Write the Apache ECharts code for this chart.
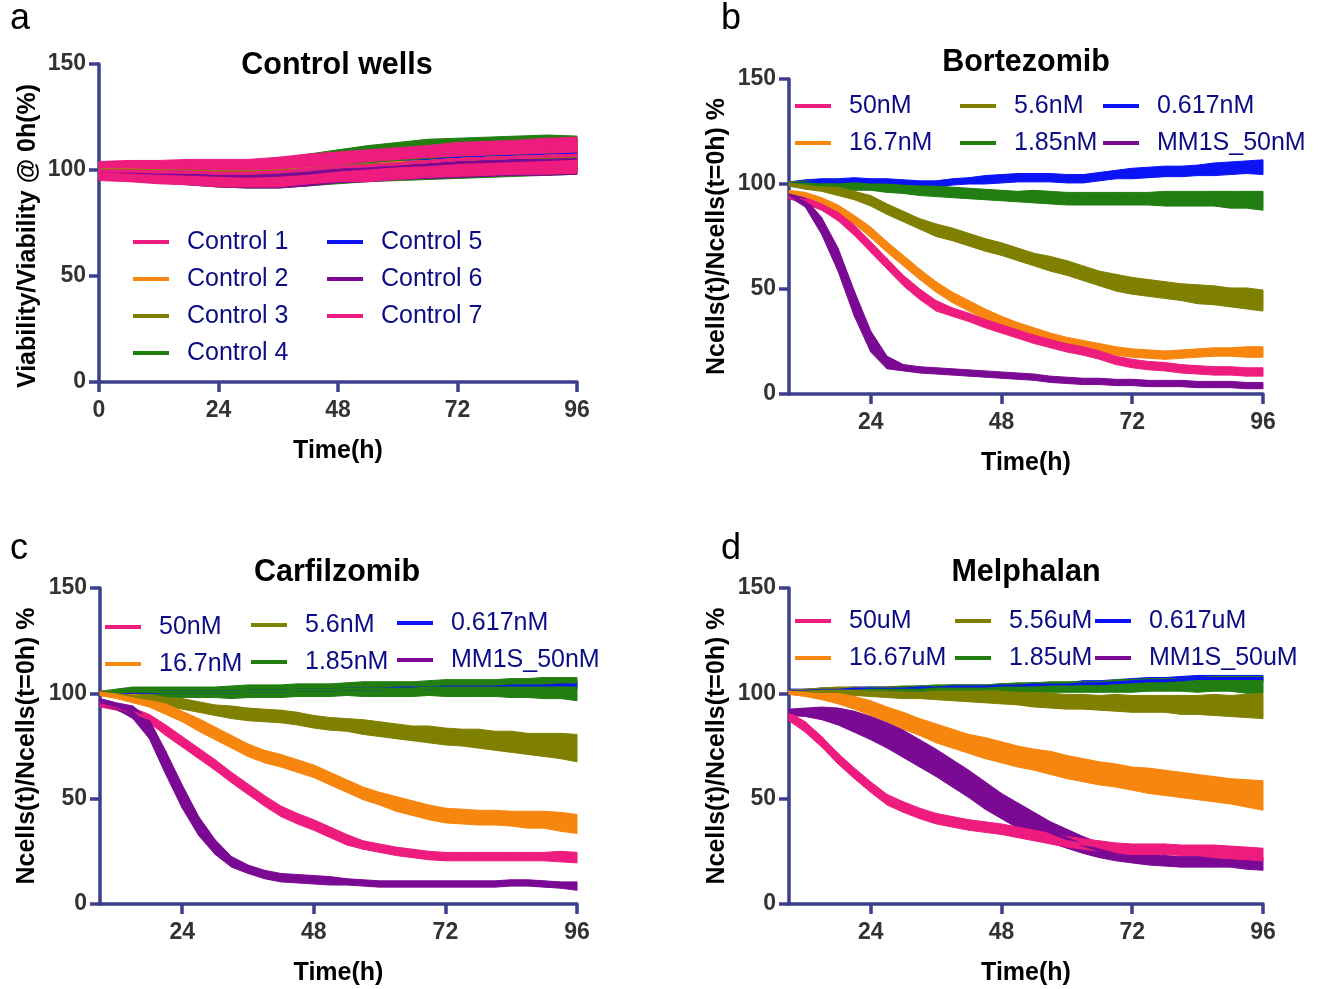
<!DOCTYPE html>
<html><head><meta charset="utf-8">
<script src="https://cdn.jsdelivr.net/npm/echarts@6/dist/echarts.min.js"></script>
<style>html,body{margin:0;padding:0;background:#fff}#c{width:1326px;height:989px}</style>
</head><body><div id="c"></div>
<script>
// ---------------- DATA ----------------
// Panel a: control wells (time in hours)
const tCtrl = [0,6,12,18,24,30,36,42,48,54,60,66,72,78,84,90,96];
const ctrl1 = [99.5,99.5,99,99,98.5,98.5,99,100,101.5,102,103,104,105,105.5,106,106.5,107];
const ctrl2 = [100,100,99.5,99,99,99,99.5,100.5,101.5,102.5,103.5,104,105,105.5,106,106.5,107];
const ctrl3 = [100,100,99.5,99.5,99,99,99.5,100.5,101.5,102.5,103,104,105,105.5,106,106,106.5];
const ctrl4 = [100,99.5,99,98.5,98,98,98.5,100,101.5,103,104,105,105.5,106,106.5,107,107];
const ctrl5 = [100,99.5,99,99,98.5,98.5,99,100,101.5,102.5,103.5,104.5,105.5,106,106.5,107,107.5];
const ctrl6 = [99.5,99,98.5,98,97.5,97,97.5,98.5,100,101,102,102.5,103.5,104,104.5,105,105.5];
const ctrl7 = [99.5,99.5,99,99,98.5,98.5,99,100.5,101.5,102,103,104,105,105.5,106,106.5,107];
const ctrlErr1 = [4,4.5,5,5.5,6,6,6.5,6.5,6.5,7,7,7,7.5,7.5,7.5,8,8];
const ctrlErr2 = [3.5,3.5,4,4.5,5,5,5.5,5.5,5.5,6,6,6,6.5,6.5,6.5,7,7];
const ctrlErr3 = [3.5,3.5,4,4.5,5,5,5.5,5.5,5.5,6,6,6,6.5,6.5,6.5,7,7];
const ctrlErr4 = [4,4.5,5,5.5,6,6.5,7,7.5,8,8.5,9,9.5,9.5,9.5,9.5,9.5,9];
const ctrlErr5 = [3.5,3.5,4,4.5,5,5,5.5,5.5,6,6,6.5,6.5,7,7,7,7,7];
const ctrlErr6 = [3.5,4,4.5,5,5.5,5.5,6,6,6,6.5,6.5,6.5,7,7,7,7.5,7.5];
const ctrlErr7 = [4.5,5,5.5,6,6.5,6.5,7,7,7,7.5,7.5,7.5,8,8,8,8.5,8.5];
const ctrlNames = ['Control 1','Control 2','Control 3','Control 4','Control 5','Control 6','Control 7'];

// Panels b-d: shared time points (hours)
const tDrug = [9,12,15,18,21,24,27,30,33,36,39,42,45,48,51,54,57,60,63,66,69,72,75,78,81,84,87,90,93,96];

// Panel b: Bortezomib
const bortNames = ['50nM','16.7nM','5.6nM','1.85nM','0.617nM','MM1S_50nM'];
const bort50   = [94,92,89,84.5,78,70,62,54,47.5,42,39,36.5,33.5,31,28.5,26,24,22,20.5,18.5,16,14.5,13.5,13,12,11.5,11,11,10.5,10.5];
const bort16   = [96,94.5,92,88,83,77,70,63.5,57,51,46,42,38,35,32,29.5,27,25,23.5,22,20.5,19.5,19,18.5,19,19.5,20,20,20,20];
const bort5    = [100,99,98,96.5,94.5,92,88,84.5,81,78,76,73.5,71,69,66.5,64,62,60,57.5,55,53,51.5,50.5,49.5,48.5,47.5,47,46,45.5,44.5];
const bort1    = [100,100,99.5,99.5,99,99,98,97.5,97,96.5,96,95.5,95,94.5,94,94,93.5,93,93,93,93,93,93,93,93,93,93,92.5,92.5,92];
const bort06   = [100,100.5,101,101,101.5,101,101,100.5,100,100,101,101.5,102,102.5,103,103,103,102.5,102.5,103.5,104.5,105,105.5,106,106,106.5,107,107.5,108,108];
const bortMM   = [95,91,80,64,43,25,15,12.5,11.5,11,10.5,10,9.5,9,8.5,8,7,6.5,6,6,5.5,5.5,5,5,5,4.5,4.5,4.5,4,4];
const bortErr50 = [1,1.5,1.5,2,2.5,2.5,2.5,2.5,2.5,2.5,2,2,2,2,2,2,2,2,2,2,2,2,2,2,2,2,2,2,2,2];
const bortErr16 = [1,1.5,1.5,2,2,2.5,2.5,2.5,2.5,2.5,2.5,2.5,2.5,2,2,2,2,2,2,2,2,2,2,2,2,2,2,2,2.5,2.5];
const bortErr5  = [1,1.5,1.5,2,2,2.5,2.5,2.5,2.5,3,3,3,3,3,3,3,3.5,3.5,3.5,3.5,4,4,4,4,4,4.5,4.5,4.5,5,5];
const bortErr1  = [1,1.5,1.5,2,2,2,2,2,2.5,2.5,2.5,2.5,2.5,2.5,2.5,3,3,3,3,3,3,3,3,3.5,3.5,3.5,3.5,4,4,4.5];
const bortErr06 = [1,1.5,1.5,1.5,1.5,1.5,1.5,1.5,1.5,1.5,1.5,1.5,2,2,2,2,2,2,2,2,2,2.5,2.5,2.5,2.5,2.5,3,3,3,3.5];
const bortErrMM = [1,2,4,5.5,6,5,3,1.5,1.5,1.5,1.5,1.5,1.5,1.5,1.5,1.5,1.5,1.5,1.5,1.5,1.5,1.5,1.5,1.5,1.5,1.5,1.5,1.5,1.5,1.5];

// Panel c: Carfilzomib
const carfNames = ['50nM','16.7nM','5.6nM','1.85nM','0.617nM','MM1S_50nM'];
const carf50   = [95,93.5,91,88,82.5,77,71.5,66,60,54.5,49,44,40.5,37.5,34,30.5,28,26.5,25,24,23,22.5,22.5,22.5,22.5,22.5,22.5,22.5,22.5,22];
const carf16   = [100,99,97.5,95.5,92.5,89,85,81,77,73,70,68,65.5,63,59.5,56,52.5,50,47.5,45.5,43.5,42,41.5,41,41,40.5,40,40,39,38];
const carf5    = [100,99.5,98.5,97.5,96,95,93.5,92,91,90,89.5,89,88,86.5,85.5,85,84,83,82,81,80.5,79.5,79,78.5,77.5,77,76,75.5,75,74];
const carf1    = [100,100.5,101,101,100.5,100.5,100.5,100.5,100.5,101,101,101,101.5,101.5,101.5,102,102,102,102,102,102.5,102.5,102.5,102.5,102.5,102.5,102.5,102.5,102.5,102];
const carf06   = [100,100,100.5,100.5,100.5,100.5,100.5,100.5,100.5,101,101,101,101.5,101.5,101.5,102,102,102,102.5,102.5,102.5,103,103,103,103,103.5,103.5,103.5,104,104];
const carfMM   = [96,94,91,83,67,51,37,27,20,16.5,14,12.5,12,11.5,11,10.5,10,9.5,9.5,9.5,9.5,9.5,9.5,9.5,9.5,10,10,9.5,9,8.5];
const carfErr50 = [1.5,1.5,2,2,2.5,2.5,2.5,2.5,2.5,2.5,2.5,2.5,2.5,2.5,2.5,2.5,2,2,2,2,2,2,2,2,2,2,2,2,2.5,2.5];
const carfErr16 = [1,1.5,2,2,2.5,2.5,3,3,3,3,3,3,3,3,3,3,3,3,3.5,3.5,3.5,3.5,3.5,3.5,3.5,3.5,4,4,4.5,4.5];
const carfErr5  = [1,1.5,1.5,2,2,2.5,2.5,2.5,3,3,3,3,3,3,3,3,3.5,3.5,3.5,3.5,4,4,4,4.5,4.5,5,5,5.5,6,6.5];
const carfErr1  = [1,1.5,2,2,2.5,2.5,2.5,2.5,3,3,3,3,3,3,3,3,3.5,3.5,3.5,3.5,3.5,4,4,4,4,4.5,4.5,5,5,5.5];
const carfErr06 = [1,1,1.5,1.5,1.5,1.5,1.5,1.5,1.5,1.5,1.5,1.5,1.5,1.5,1.5,1.5,2,2,2,2,2,2,2,2,2,2,2,2,2,2];
const carfErrMM = [1.5,1.5,3,4.5,5.5,5.5,4.5,3.5,2.5,2,2,2,2,2,2,1.5,1.5,1.5,1.5,1.5,1.5,1.5,1.5,1.5,1.5,1.5,1.5,1.5,1.5,2];

// Panel d: Melphalan
const melNames = ['50uM','16.67uM','5.56uM','1.85uM','0.617uM','MM1S_50uM'];
const mel50   = [89,84,77,69,62,55.5,49.5,46,43,40.5,39,37.5,36.5,35.5,34,32.5,31,29.5,28.5,27.5,26.5,26,26,26,25.5,25.5,25,24.5,24,23.5];
const mel16   = [100.5,100,99,97.5,95.5,93,90,87,84,81,78.5,76,74,72,70,68.5,67,65,63.5,62,61,59.5,58.5,57.5,56.5,55.5,54.5,53.5,52.5,51.5];
const mel5    = [100.5,100.5,101,101,101,100.5,100.5,100,100,99.5,99.5,99,98.5,98,97.5,97,96.5,96,96,95.5,95.5,95,95,95,94.5,94.5,94.5,94,94,94];
const mel1    = [100.5,100.5,101,101,101,101.5,101.5,101.5,101.5,102,102,102,102,102.5,102.5,102.5,103,103,103,103,103.5,103.5,104,104,104,104,104.5,104.5,104,104];
const mel06   = [101,101,101.5,101.5,102,102,102,102,102.5,102.5,103,103,103,103.5,103.5,104,104,104,104.5,104.5,105,105.5,106,106,106.5,107,107,107,107,107];
const melMM   = [91,91,90.5,89,86.5,83.5,80,76,71.5,67,62,57,51.5,46.5,42,38,34,31,28,25.5,23.5,22,21,20.5,20,20,20,20,19.5,19];
const melErr50 = [2,2.5,2.5,2.5,2.5,2.5,2.5,2.5,2.5,2.5,2.5,2.5,2.5,2.5,2.5,2.5,2.5,2.5,2.5,2.5,2.5,2.5,2.5,2.5,2.5,2.5,3,3,3,3];
const melErr16 = [1,1.5,2,2.5,3,3.5,3.5,4,4,4.5,4.5,4.5,5,5,5,5,5.5,5.5,5.5,5.5,5.5,5.5,6,6,6,6,6,6,6.5,7];
const melErr5  = [1,1.5,1.5,2,2,2,2.5,2.5,2.5,2.5,3,3,3,3,3,3.5,3.5,3.5,3.5,3.5,4,4,4,4,4.5,4.5,5,5,5.5,6];
const melErr1  = [1,1,1.5,1.5,1.5,1.5,1.5,2,2,2,2,2,2,2,2.5,2.5,2.5,2.5,2.5,2.5,3,3,3,3,3,3.5,3.5,3.5,4,4];
const melErr06 = [1,1,1,1,1,1,1,1,1,1,1,1,1,1,1,1,1,1,1.5,1.5,1.5,1.5,1.5,1.5,1.5,1.5,1.5,1.5,1.5,1.5];
const melErrMM = [1.5,2,3,4,5,5.5,6,6.5,6.5,6.5,6.5,6.5,6.5,6,6,5.5,5,4.5,4,3.5,3,2.5,2.5,2.5,2.5,2.5,2.5,2.5,3,3];

const panelTitles = ['Control wells','Bortezomib','Carfilzomib','Melphalan'];
const panelLetters = ['a','b','c','d'];
const xTicksA = [0,24,48,72,96];
const xTicksDrug = [24,48,72,96];

// ---------------- STYLE ----------------
const FONT = "'Liberation Sans', Arial, Helvetica, sans-serif";
const AX = '#3b3f8c';
const C = {pink:'#ee1c7e', orange:'#f7860f', olive:'#808000', green:'#237e12', blue:'#0a14f5', purple:'#7a0a93'};

const series = [];
function addSeries(p, t, v, e, color, name) {
  const seg = [];
  for (let i = 0; i < t.length - 1; i++) {
    seg.push([t[i], v[i] - e[i], v[i] + e[i], t[i + 1], v[i + 1] - e[i + 1], v[i + 1] + e[i + 1]]);
  }
  series.push({
    type: 'custom', name: name + ' error', xAxisIndex: p, yAxisIndex: p, silent: true,
    data: seg, encode: {x: [0, 3], y: [1, 2, 4, 5]},
    renderItem: function (params, api) {
      const a = api.coord([api.value(0), api.value(1)]);
      const b = api.coord([api.value(3), api.value(4)]);
      const c = api.coord([api.value(3), api.value(5)]);
      const d = api.coord([api.value(0), api.value(2)]);
      return {type: 'polygon', shape: {points: [a, b, c, d]}, style: {fill: color, stroke: color, lineWidth: 1}};
    }
  });
  series.push({
    type: 'line', name: name, xAxisIndex: p, yAxisIndex: p, symbol: 'none', silent: true,
    color: color, itemStyle: {color: color}, lineStyle: {color: color, width: 3},
    data: t.map((x, i) => [x, v[i]])
  });
}

// Panel a
addSeries(0, tCtrl, ctrl4, ctrlErr4, C.green, ctrlNames[3]);
addSeries(0, tCtrl, ctrl6, ctrlErr6, C.purple, ctrlNames[5]);
addSeries(0, tCtrl, ctrl5, ctrlErr5, C.blue, ctrlNames[4]);
addSeries(0, tCtrl, ctrl2, ctrlErr2, C.orange, ctrlNames[1]);
addSeries(0, tCtrl, ctrl3, ctrlErr3, C.olive, ctrlNames[2]);
addSeries(0, tCtrl, ctrl1, ctrlErr1, C.pink, ctrlNames[0]);
addSeries(0, tCtrl, ctrl7, ctrlErr7, C.pink, ctrlNames[6]);
// Panel b
addSeries(1, tDrug, bort06, bortErr06, C.blue, bortNames[4]);
addSeries(1, tDrug, bort1, bortErr1, C.green, bortNames[3]);
addSeries(1, tDrug, bort5, bortErr5, C.olive, bortNames[2]);
addSeries(1, tDrug, bort16, bortErr16, C.orange, bortNames[1]);
addSeries(1, tDrug, bort50, bortErr50, C.pink, bortNames[0]);
addSeries(1, tDrug, bortMM, bortErrMM, C.purple, bortNames[5]);
// Panel c
addSeries(2, tDrug, carf06, carfErr06, C.blue, carfNames[4]);
addSeries(2, tDrug, carf1, carfErr1, C.green, carfNames[3]);
addSeries(2, tDrug, carf5, carfErr5, C.olive, carfNames[2]);
addSeries(2, tDrug, carf16, carfErr16, C.orange, carfNames[1]);
addSeries(2, tDrug, carf50, carfErr50, C.pink, carfNames[0]);
addSeries(2, tDrug, carfMM, carfErrMM, C.purple, carfNames[5]);
// Panel d
addSeries(3, tDrug, mel06, melErr06, C.blue, melNames[4]);
addSeries(3, tDrug, mel1, melErr1, C.green, melNames[3]);
addSeries(3, tDrug, mel5, melErr5, C.olive, melNames[2]);
addSeries(3, tDrug, mel16, melErr16, C.orange, melNames[1]);
addSeries(3, tDrug, melMM, melErrMM, C.purple, melNames[5]);
addSeries(3, tDrug, mel50, melErr50, C.pink, melNames[0]);

const grids = [
  {left: 99, top: 64, width: 478, height: 318},
  {left: 789, top: 79, width: 474, height: 315},
  {left: 100, top: 588, width: 477, height: 316},
  {left: 789, top: 588, width: 474, height: 316}
];

function xAx(p, min, ticks) {
  return {
    type: 'value', gridIndex: p, min: min, max: 96,
    name: 'Time(h)', nameLocation: 'middle', nameGap: 57,
    nameTextStyle: {fontSize: 25, fontWeight: 'bold', color: '#000', fontFamily: FONT},
    axisLine: {onZero: false, lineStyle: {color: AX, width: 3.5}},
    axisTick: {length: 10, lineStyle: {color: AX, width: 3.5}, customValues: ticks},
    axisLabel: {fontSize: 23, fontWeight: 'bold', color: '#333', margin: 17, fontFamily: FONT, customValues: ticks},
    splitLine: {show: false}
  };
}
function yAx(p, name, gap, pad) {
  return {
    type: 'value', gridIndex: p, min: 0, max: 150, interval: 50,
    name: name, nameLocation: 'middle', nameGap: gap,
    nameTextStyle: {fontSize: 25, fontWeight: 'bold', color: '#000', fontFamily: FONT, padding: pad},
    axisLine: {onZero: false, lineStyle: {color: AX, width: 3.5}},
    axisTick: {length: 10, lineStyle: {color: AX, width: 3.5}},
    axisLabel: {fontSize: 23, fontWeight: 'bold', color: '#333', margin: 13, fontFamily: FONT},
    splitLine: {show: false}
  };
}

function legendCol(names, left, top) {
  return {
    orient: 'vertical', left: left, top: top, data: names, icon: 'rect',
    itemWidth: 36, itemHeight: 4, itemGap: 11, padding: 0, selectedMode: false,
    textStyle: {fontSize: 25, color: '#0c0c85', fontFamily: FONT, lineHeight: 26, padding: [0, 0, 0, 13]}
  };
}

const titleCenters = [[337, 50], [1026, 47], [337, 557], [1026, 557]];
const letterPos = [[10, 1], [721, 1], [10, 531], [721, 531]];
const titles = [];
panelTitles.forEach((tx, i) => titles.push({
  text: tx, left: titleCenters[i][0], top: titleCenters[i][1], textAlign: 'center', padding: 0,
  textStyle: {fontSize: 30.5, fontWeight: 'bold', color: '#000', fontFamily: FONT}
}));
panelLetters.forEach((tx, i) => titles.push({
  text: tx, left: letterPos[i][0], top: letterPos[i][1], padding: 0,
  textStyle: {fontSize: 36, fontWeight: 'normal', color: '#000', fontFamily: FONT}
}));

const option = {
  animation: false,
  backgroundColor: '#fff',
  title: titles,
  grid: grids,
  xAxis: [xAx(0, 0, xTicksA), xAx(1, 9, xTicksDrug), xAx(2, 9, xTicksDrug), xAx(3, 9, xTicksDrug)],
  yAxis: [
    yAx(0, 'Viability/Viability @ 0h(%)', 58, [0, 26, 0, 0]),
    yAx(1, 'Ncells(t)/Ncells(t=0h) %', 59, 0),
    yAx(2, 'Ncells(t)/Ncells(t=0h) %', 60, 0),
    yAx(3, 'Ncells(t)/Ncells(t=0h) %', 59, 0)
  ],
  legend: [
    legendCol(ctrlNames.slice(0, 4), 133, 229),
    legendCol(ctrlNames.slice(4, 7), 327, 229),
    legendCol([bortNames[0], bortNames[1]], 795, 93),
    legendCol([bortNames[2], bortNames[3]], 960, 93),
    legendCol([bortNames[4], bortNames[5]], 1103, 93),
    legendCol([carfNames[0], carfNames[1]], 105, 614),
    legendCol([carfNames[2], carfNames[3]], 251, 612),
    legendCol([carfNames[4], carfNames[5]], 397, 610),
    legendCol([melNames[0], melNames[1]], 795, 608),
    legendCol([melNames[2], melNames[3]], 955, 608),
    legendCol([melNames[4], melNames[5]], 1095, 608)
  ],
  series: series
};

const chart = echarts.init(document.getElementById('c'), null, {renderer: 'canvas'});
chart.setOption(option);
</script>
</body></html>
